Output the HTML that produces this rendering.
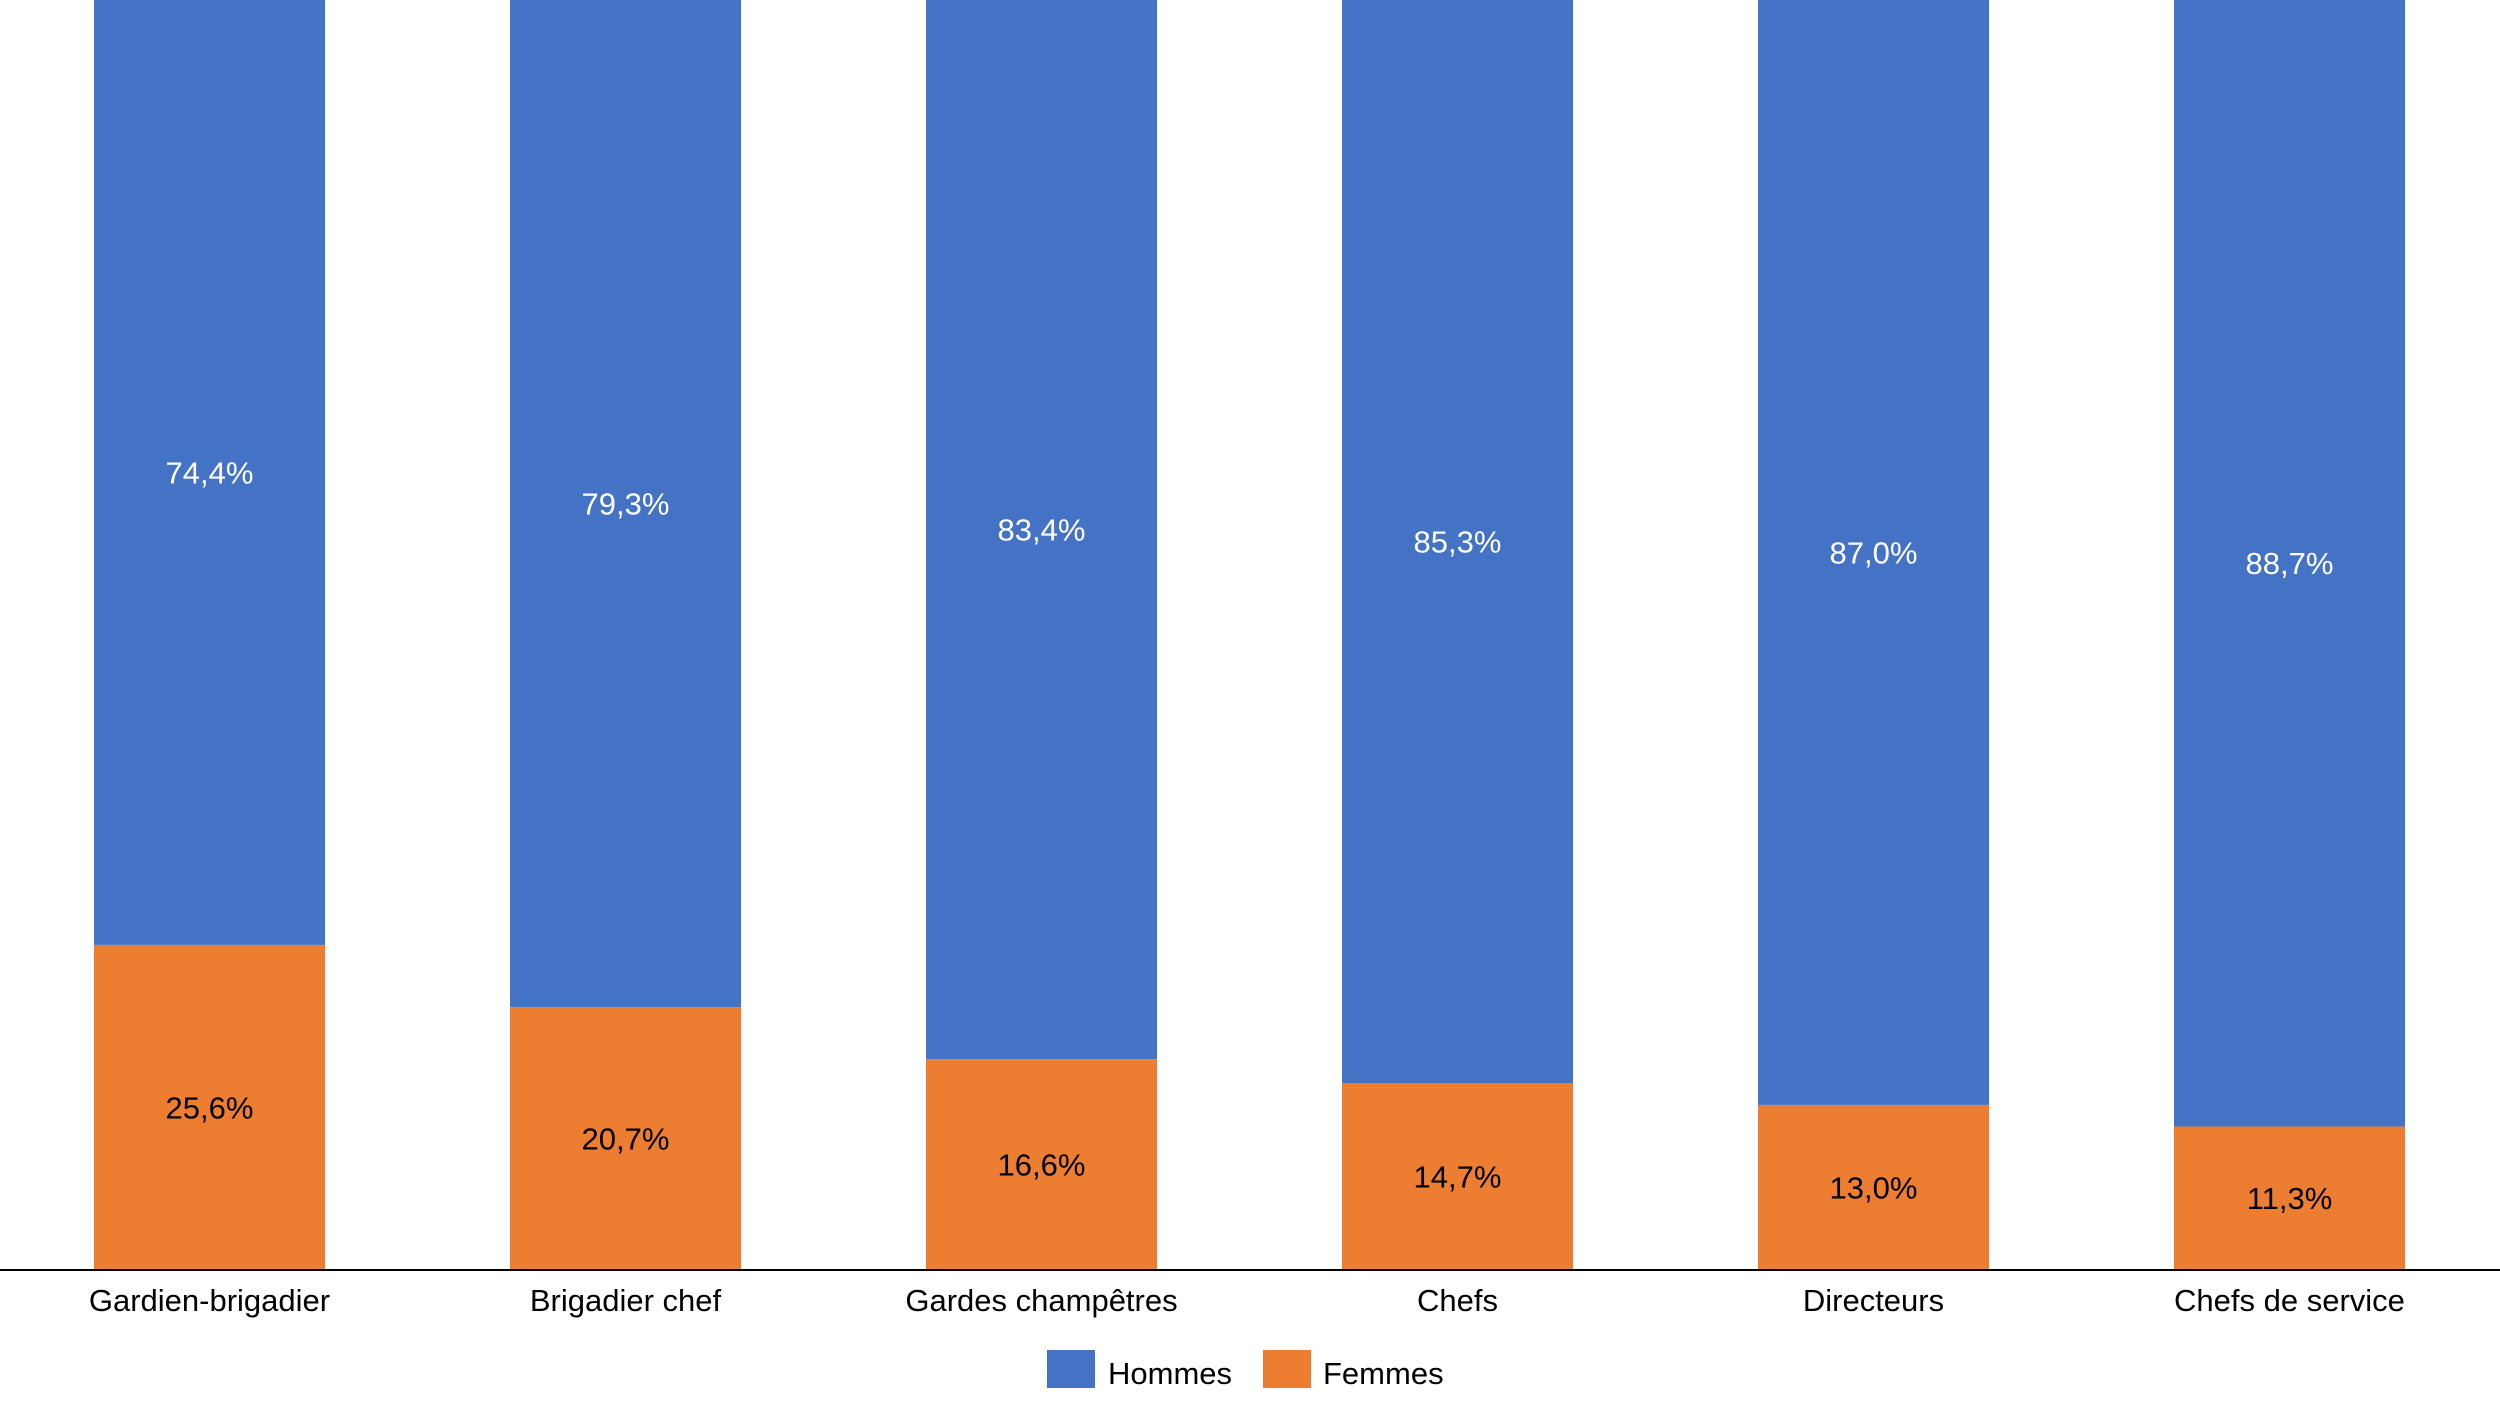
<!DOCTYPE html>
<html><head><meta charset="utf-8"><style>
html,body{margin:0;padding:0;background:#fff;}
svg{display:block;font-family:"Liberation Sans",sans-serif;}
</style></head><body>
<svg id="chart" width="2500" height="1406" viewBox="0 0 2500 1406" xmlns="http://www.w3.org/2000/svg">
<g id="bars"></g>
<line x1="0" y1="1270" x2="2500" y2="1270" stroke="#000" stroke-width="2"/>
<g id="xlabels"></g>
<g>
<rect x="1047" y="1350" width="48" height="38" fill="#4472C4"/>
<text x="1108" y="1384" font-size="31" fill="#000">Hommes</text>
<rect x="1263" y="1350" width="48" height="38" fill="#ED7D31"/>
<text x="1323" y="1384" font-size="31" fill="#000">Femmes</text>
</g>
</svg>
<script>
const categories=["Gardien-brigadier","Brigadier chef","Gardes champêtres","Chefs","Directeurs","Chefs de service"];
const femmes=[25.6,20.7,16.6,14.7,13.0,11.3];
const hommes=[74.4,79.3,83.4,85.3,87.0,88.7];
const NS="http://www.w3.org/2000/svg";
const plotTop=0,plotBottom=1270,left0=94,step=416,barW=231;
function y(v){return plotBottom-(v/100)*(plotBottom-plotTop);}
function xb(i){return left0+i*step;}
function fmt(v){return v.toFixed(1).replace('.',',')+'%';}
const bars=document.getElementById('bars'),xl=document.getElementById('xlabels');
categories.forEach((c,i)=>{
  const x=xb(i);
  const f=document.createElementNS(NS,'rect');
  
  
  f.setAttribute('x',x);f.setAttribute('y',y(femmes[i]));f.setAttribute('width',barW);f.setAttribute('height',plotBottom-y(femmes[i]));f.setAttribute('fill','#ED7D31');
  bars.appendChild(f);
  const h=document.createElementNS(NS,'rect');
  
  
  const ht=y(femmes[i]+hommes[i]);
  h.setAttribute('x',x);h.setAttribute('y',ht);h.setAttribute('width',barW);h.setAttribute('height',y(femmes[i])-ht);h.setAttribute('fill','#4472C4');
  bars.appendChild(h);
  const tf=document.createElementNS(NS,'text');
  
  
  tf.setAttribute('x',x+barW/2);tf.setAttribute('y',(y(femmes[i])+plotBottom)/2+11);tf.setAttribute('text-anchor','middle');tf.setAttribute('font-size','31');tf.setAttribute('fill','#000');
  tf.textContent=fmt(femmes[i]);bars.appendChild(tf);
  const th=document.createElementNS(NS,'text');
  
  
  th.setAttribute('x',x+barW/2);th.setAttribute('y',(y(femmes[i])+ht)/2+11);th.setAttribute('text-anchor','middle');th.setAttribute('font-size','31');th.setAttribute('fill','#fff');
  th.textContent=fmt(hommes[i]);bars.appendChild(th);
  const l=document.createElementNS(NS,'text');
  
  
  l.setAttribute('x',x+barW/2);l.setAttribute('y',1311);l.setAttribute('text-anchor','middle');l.setAttribute('font-size','31');l.setAttribute('fill','#000');
  l.textContent=c;xl.appendChild(l);
});
</script>
</body></html>
